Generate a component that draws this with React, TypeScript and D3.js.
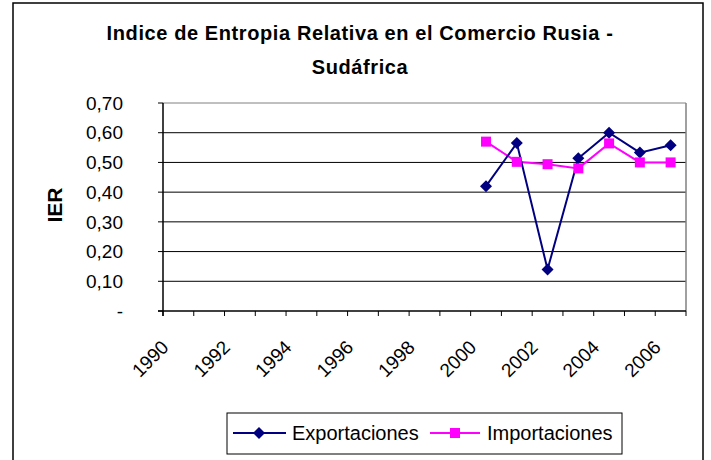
import React from "react";
import * as d3 from "d3";

const years = d3.range(1990, 2007).map(String);
const tickYears = ["1990", "1992", "1994", "1996", "1998", "2000", "2002", "2004", "2006"];
const dataYears = ["2000", "2001", "2002", "2003", "2004", "2005", "2006"];
const exportaciones = [0.42, 0.565, 0.14, 0.514, 0.6, 0.533, 0.558];
const importaciones = [0.57, 0.502, 0.494, 0.48, 0.564, 0.5, 0.5];
const yTicks = [0, 0.1, 0.2, 0.3, 0.4, 0.5, 0.6, 0.7];

const W = 711, H = 460;
const m = { l: 163, r: 686, t: 103, b: 311 };
const font = "'Liberation Sans', Arial, sans-serif";

export default function App() {
  const x = d3.scaleBand().domain(years).range([m.l, m.r]);
  const y = d3.scaleLinear().domain([0, 0.7]).range([m.b, m.t]);
  const cx = (d: string) => (x(d) as number) + x.bandwidth() / 2;
  const fmt = (v: number) => (v === 0 ? "-" : v.toFixed(2).replace(".", ","));
  const line = d3.line<number>().x((_, i) => cx(dataYears[i])).y((v) => y(v));
  const diamond = (px: number, py: number, r = 6) =>
    `M${px},${py - r}L${px + r},${py}L${px},${py + r}L${px - r},${py}Z`;

  return (
    <svg width={W} height={H} style={{ position: "absolute", left: 0, top: 0, fontFamily: font }}>
      <rect x={0} y={0} width={W} height={H} fill="#fff" />
      <rect x={13} y={3} width={690} height={470} fill="none" stroke="#000" strokeWidth={1.5} />
      <text x={360} y={40} textAnchor="middle" fontSize={20} fontWeight="bold" letterSpacing={0.6}>
        Indice de Entropia Relativa en el Comercio Rusia -
      </text>
      <text x={360} y={74} textAnchor="middle" fontSize={20} fontWeight="bold" letterSpacing={0.6}>
        Sudáfrica
      </text>
      {yTicks.map((t) => (
        <g key={t}>
          {t > 0 && <line x1={m.l} x2={m.r} y1={y(t)} y2={y(t)} stroke={t === 0.7 ? "#808080" : "#000"} strokeWidth={1} />}
          <line x1={m.l - 5} x2={m.l} y1={y(t)} y2={y(t)} stroke="#000" />
          <text x={123} y={y(t)} dy="0.35em" textAnchor="end" fontSize={19}>
            {fmt(t)}
          </text>
        </g>
      ))}
      <line x1={m.r} x2={m.r} y1={m.t} y2={m.b} stroke="#808080" strokeWidth={1.5} />
      <line x1={m.l} x2={m.l} y1={m.t} y2={m.b + 5} stroke="#000" strokeWidth={1.5} />
      <line x1={m.l - 5} x2={m.r} y1={m.b} y2={m.b} stroke="#000" strokeWidth={1.5} />
      {years.concat(["end"]).map((d, i) => {
        const px = m.l + i * x.bandwidth();
        return <line key={d} x1={px} x2={px} y1={m.b} y2={m.b + 5} stroke="#000" />;
      })}
      {tickYears.map((d) => (
        <text key={d} transform={`translate(${cx(d) - 18},${m.b + 28}) rotate(-45)`} textAnchor="end" dy="0.7em" fontSize={19}>
          {d}
        </text>
      ))}
      <text transform={`translate(62,205) rotate(-90)`} textAnchor="middle" fontSize={21} fontWeight="bold">
        IER
      </text>
      <path d={line(importaciones) || ""} fill="none" stroke="#ff00ff" strokeWidth={2} />
      <path d={line(exportaciones) || ""} fill="none" stroke="#000080" strokeWidth={2} />
      {exportaciones.map((v, i) => (
        <path key={"e" + i} d={diamond(cx(dataYears[i]), y(v))} fill="#000080" />
      ))}
      {importaciones.map((v, i) => (
        <rect key={"i" + i} x={cx(dataYears[i]) - 5} y={y(v) - 5} width={10} height={10} fill="#ff00ff" />
      ))}
      <rect x={227} y={413} width={395} height={41} fill="#fff" stroke="#000" strokeWidth={1} />
      <line x1={233} x2={286} y1={433} y2={433} stroke="#000080" strokeWidth={2} />
      <path d={diamond(259, 433)} fill="#000080" />
      <text x={292} y={433} dy="0.35em" fontSize={20}>Exportaciones</text>
      <line x1={430} x2={480} y1={433} y2={433} stroke="#ff00ff" strokeWidth={2} />
      <rect x={450} y={428} width={10} height={10} fill="#ff00ff" />
      <text x={487} y={433} dy="0.35em" fontSize={20}>Importaciones</text>
    </svg>
  );
}
